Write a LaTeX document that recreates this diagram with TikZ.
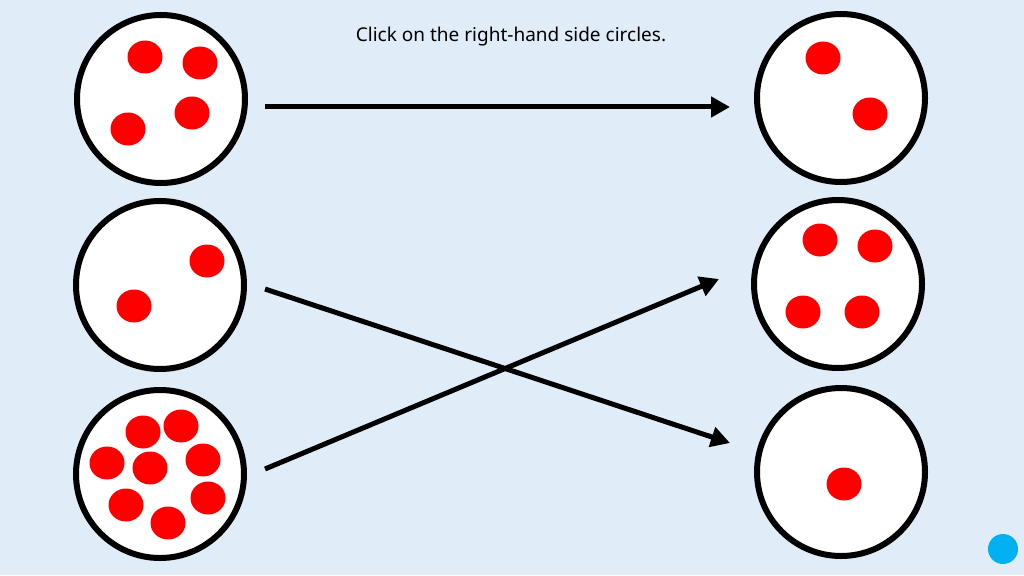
\documentclass[tikz,border=0pt]{standalone}
\usepackage{fontspec}
\setmainfont{Noto Sans}
\usetikzlibrary{arrows.meta}
\definecolor{slide}{RGB}{224,236,248}
\definecolor{skyblue}{RGB}{0,176,240}
\def\reddot(#1,#2){\fill[red] (#1,#2) ellipse (17.5pt and 16.5pt);}
\tikzset{
	bowl/.style={draw=black, line width=6pt, fill=white, circle, minimum size=168pt, inner sep=0pt},
	link/.style={line width=5pt, -{Triangle[length=19pt,width=20pt]}}
}

\begin{document}
\begin{tikzpicture}[x=1pt, y=-1pt]
			%%%%% START %%%%%
			
			\fill[slide] (0,0) rectangle (1024,575);
			\useasboundingbox (0,0) rectangle (1024,575);
			
			\node[font=\fontsize{19}{22}\selectfont] (title) at (511,37) {Click on the right-hand side circles.};
			
			% left circles
			\node[bowl] (L1) at (161,99) {};
			\node[bowl] (L2) at (160,285) {};
			\node[bowl] (L3) at (160,474) {};
			
			% right circles
			\node[bowl] (R1) at (841,98) {};
			\node[bowl] (R2) at (838,284) {};
			\node[bowl] (R3) at (841,472) {};
			
			\reddot(145,57) \reddot(200,63) \reddot(128,129) \reddot(192,113)
			
			\reddot(207,261) \reddot(134,306)
			
			\reddot(143,432) \reddot(181,426) \reddot(107,463) \reddot(150,468)
			\reddot(203,460) \reddot(126,505) \reddot(208,498) \reddot(168,523)
			
			\reddot(823,58) \reddot(870,114)
			
			\reddot(820,240) \reddot(875,246) \reddot(803,312) \reddot(862,312)
			
			\reddot(844,484)
			
			\fill[skyblue] (1003,549) circle (15pt);
			
			% arrow ends
			\coordinate (s1) at (265,107);
			\coordinate (e1) at (730,107);
			\coordinate (s2) at (265,289);
			\coordinate (e2) at (730,443);
			\coordinate (s3) at (265,469);
			\coordinate (e3) at (719,279);
			
			\draw[link] (s1) -- (e1);
			\draw[link] (s2) -- (e2);
			\draw[link] (s3) -- (e3);
			
			%%%%% END %%%%%
\end{tikzpicture}
\end{document}
